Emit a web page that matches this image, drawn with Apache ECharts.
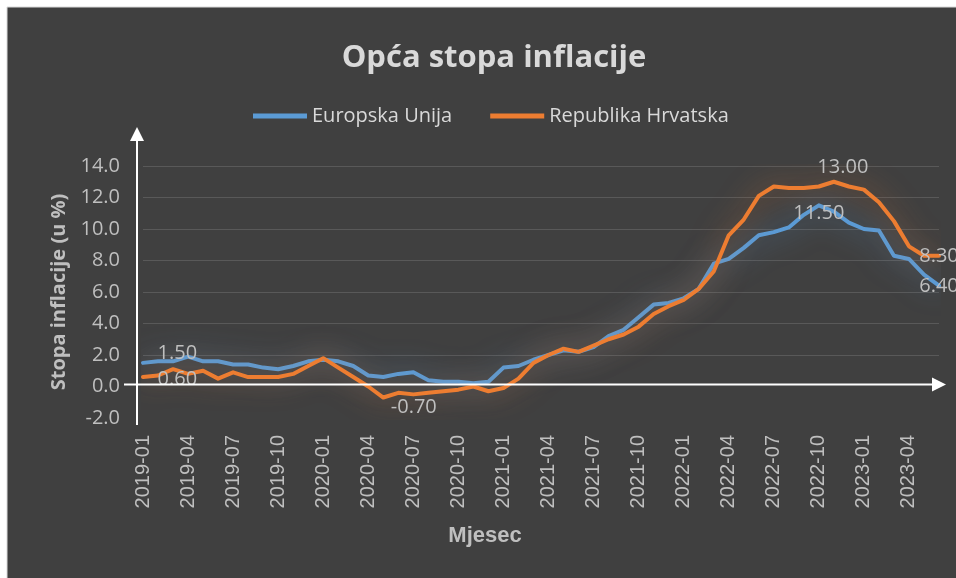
<!DOCTYPE html>
<html>
<head>
<meta charset="utf-8">
<script src="https://cdn.jsdelivr.net/npm/echarts@6/dist/echarts.min.js"></script>
<style>
  html, body { margin: 0; background: #ffffff; }
  #chart { width: 956px; height: 578px; }
</style>
</head>
<body>
<div id="chart"></div>
<script>
const months = [
  "2019-01", "2019-02", "2019-03", "2019-04", "2019-05", "2019-06", "2019-07", "2019-08", "2019-09", "2019-10", "2019-11", "2019-12",
  "2020-01", "2020-02", "2020-03", "2020-04", "2020-05", "2020-06", "2020-07", "2020-08", "2020-09", "2020-10", "2020-11", "2020-12",
  "2021-01", "2021-02", "2021-03", "2021-04", "2021-05", "2021-06", "2021-07", "2021-08", "2021-09", "2021-10", "2021-11", "2021-12",
  "2022-01", "2022-02", "2022-03", "2022-04", "2022-05", "2022-06", "2022-07", "2022-08", "2022-09", "2022-10", "2022-11", "2022-12",
  "2023-01", "2023-02", "2023-03", "2023-04", "2023-05", "2023-06",
];
const euRate = [
  1.5, 1.6, 1.6, 1.9, 1.6, 1.6, 1.4, 1.4, 1.2, 1.1, 1.3, 1.6,
  1.7, 1.6, 1.3, 0.7, 0.6, 0.8, 0.9, 0.4, 0.3, 0.3, 0.2, 0.3,
  1.2, 1.3, 1.7, 2.0, 2.3, 2.2, 2.5, 3.2, 3.6, 4.4, 5.2, 5.3,
  5.6, 6.2, 7.8, 8.1, 8.8, 9.6, 9.8, 10.1, 10.9, 11.5, 11.1, 10.4,
  10.0, 9.9, 8.3, 8.1, 7.1, 6.4,
];
const hrRate = [
  0.6, 0.7, 1.1, 0.8, 1.0, 0.5, 0.9, 0.6, 0.6, 0.6, 0.8, 1.3,
  1.8, 1.2, 0.6, 0.0, -0.7, -0.4, -0.5, -0.4, -0.3, -0.2, 0.0, -0.3,
  -0.1, 0.5, 1.5, 2.0, 2.4, 2.2, 2.6, 3.0, 3.3, 3.8, 4.6, 5.1,
  5.5, 6.2, 7.3, 9.6, 10.6, 12.1, 12.7, 12.6, 12.6, 12.7, 13.0, 12.7,
  12.5, 11.7, 10.5, 8.9, 8.3, 8.3,
];
const seriesNames = ["Europska Unija", "Republika Hrvatska"];

const TEXT = "#bfbfbf";
const SANS = "Open Sans";

// which points carry a value label, and where it sits
const euLabels = {
  0: { position: "right", distance: 14, offset: [0, -10] },
  45: { position: "inside", offset: [0, 8] },
  53: { position: "inside", offset: [0, 1] },
};
const hrLabels = {
  0: { position: "right", distance: 14, offset: [0, 2] },
  16: { position: "right", distance: 7, offset: [0, 10] },
  46: { position: "top", distance: 4, offset: [9, 0] },
  53: { position: "inside", offset: [0, 1] },
};

function withLabels(values, labels) {
  return values.map((v, i) =>
    labels[i]
      ? {
          value: v,
          label: {
            show: true,
            color: TEXT,
            fontSize: 20,
            fontFamily: SANS,
            formatter: (p) => Number(p.value).toFixed(2),
            ...labels[i],
          },
        }
      : v
  );
}

function glowLine(name, values, labels, color, glow) {
  return {
    name,
    type: "line",
    data: withLabels(values, labels),
    symbol: "circle",
    symbolSize: 1,
    showAllSymbol: true,
    lineStyle: { color, width: 4, cap: "round", join: "round", shadowColor: glow, shadowBlur: 28 },
    itemStyle: { color },
    emphasis: { disabled: true },
  };
}

const chart = echarts.init(document.getElementById("chart"));
chart.setOption({
  animation: false,
  backgroundColor: "#ffffff",
  graphic: [
    {
      id: "panel",
      type: "rect",
      z: -100,
      silent: true,
      shape: { x: 7, y: 7, width: 960, height: 580 },
      style: { fill: "#404040", stroke: "#d9d9d9", lineWidth: 1 },
    },
  ],
  title: {
    text: "Opća stopa inflacije",
    left: 489,
    textAlign: "center",
    top: 38,
    textStyle: { color: "#d9d9d9", fontSize: 31, fontWeight: "bold", fontFamily: SANS },
  },
  legend: {
    data: seriesNames,
    left: 248,
    top: 101,
    icon: "rect",
    itemWidth: 54,
    itemHeight: 5,
    itemGap: 38,
    textStyle: { color: "#d9d9d9", fontSize: 20, fontFamily: SANS },
  },
  grid: { left: 143, right: 17, top: 166, bottom: 160 },
  xAxis: {
    type: "category",
    data: months,
    boundaryGap: false,
    axisLine: { show: false, onZero: false },
    axisTick: { show: false },
    axisLabel: { rotate: 90, interval: 2, margin: 17, color: TEXT, fontSize: 20, fontFamily: "Liberation Sans" },
    splitLine: { show: false },
    name: "Mjesec",
    nameLocation: "middle",
    nameGap: 107,
    nameTextStyle: { color: TEXT, fontSize: 22, fontWeight: "bold", fontFamily: "Liberation Sans", padding: [0, 112, 0, 0] },
  },
  yAxis: {
    type: "value",
    min: -2,
    max: 14,
    interval: 2,
    axisLine: { show: false },
    axisTick: { show: false },
    axisLabel: { color: TEXT, fontSize: 20, fontFamily: SANS, margin: 23, formatter: (v) => v.toFixed(1) },
    splitLine: {
      lineStyle: {
        color: ["rgba(0,0,0,0)", "rgba(0,0,0,0)", "#595959", "#595959", "#595959", "#595959", "#595959", "#595959", "#595959"],
      },
    },
    name: "Stopa inflacije (u %)",
    nameLocation: "middle",
    nameGap: 70,
    nameTextStyle: { color: TEXT, fontSize: 20, fontWeight: "bold", fontFamily: SANS },
  },
  series: [
    glowLine(seriesNames[0], euRate, euLabels, "#5b9bd5", "rgba(91,155,213,0.75)"),
    glowLine(seriesNames[1], hrRate, hrLabels, "#ed7d31", "rgba(237,125,49,0.65)"),
  ],
});

// arrow-headed axes, placed from the chart's own scales
const finder = { xAxisIndex: 0, yAxisIndex: 0 };
const [x0, y0] = chart.convertToPixel(finder, [0, 0]);
const xEnd = chart.convertToPixel(finder, [months.length - 1, 0])[0];
const yTop = chart.convertToPixel(finder, [0, 14])[1] - 39;
const yBottom = chart.convertToPixel(finder, [0, -2])[1] + 7;
const ax = x0 - 6;
const ay = y0 - 2;
const xTip = xEnd + 7;
const axisStyle = { stroke: "#ffffff", lineWidth: 2 };

chart.setOption({
  graphic: [
    { id: "yLine", type: "line", silent: true, z: 5, shape: { x1: ax, y1: yBottom, x2: ax, y2: yTop + 10 }, style: axisStyle },
    { id: "yHead", type: "polygon", silent: true, z: 5, shape: { points: [[ax - 7, yTop + 14], [ax + 7, yTop + 14], [ax, yTop]] }, style: { fill: "#ffffff" } },
    { id: "xLine", type: "line", silent: true, z: 5, shape: { x1: x0 - 19, y1: ay, x2: xTip - 10, y2: ay }, style: axisStyle },
    { id: "xHead", type: "polygon", silent: true, z: 5, shape: { points: [[xTip - 14, ay - 7], [xTip - 14, ay + 7], [xTip, ay]] }, style: { fill: "#ffffff" } },
  ],
});
</script>
</body>
</html>
